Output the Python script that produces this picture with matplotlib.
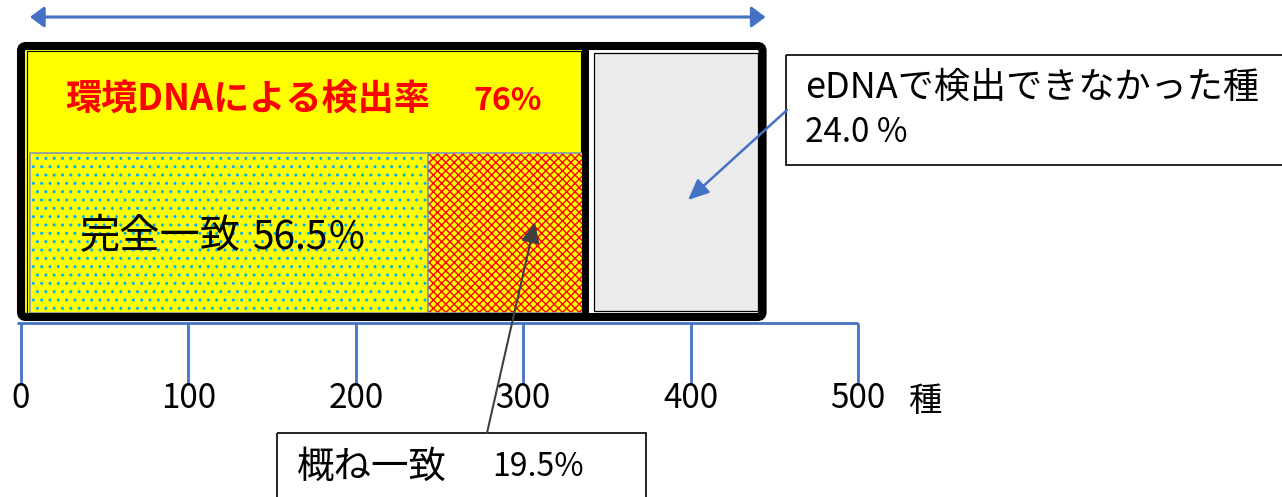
import matplotlib
matplotlib.use("Agg")
import matplotlib.pyplot as plt
import matplotlib.patches as patches
from matplotlib.transforms import Affine2D

# ==========================================
# DATA (species counts)
# ==========================================

segment_names = ["完全一致", "概ね一致", "eDNAで検出できなかった種"]
species_counts = [243, 94, 106]
percent_labels = ["56.5％", "19.5%", "24.0 %"]
detect_title = "環境DNAによる検出率"
detect_rate = "76%"
tick_values = [0, 100, 200, 300, 400, 500]
tick_labels = ["0", "100", "200", "300", "400", "500"]
unit_label = "種"

# ==========================================
# LAYOUT
# ==========================================

W, H = 1282, 497
X0_PX = 21                      # pixel of 0 species
PX_PER_SP = (858 - 21) / 500    # pixels per species

BLUE = "#4472C4"
YELLOW = "#FFFF00"
DOT_BLUE = "#00B0F0"
BORDER = "#8497B0"

plt.rcParams["font.family"] = ["Noto Sans CJK JP", "DejaVu Sans"]
plt.rcParams["hatch.linewidth"] = 1.0

fig = plt.figure(figsize=(W / 100, H / 100), dpi=100)
ax = fig.add_axes([0, 0, 1, 1])
ax.set_xlim(-X0_PX / PX_PER_SP, (W - X0_PX) / PX_PER_SP)
ax.set_ylim(H, 0)
ax.axis("off")

# pixel coords, origin top-left
pix = Affine2D().scale(1, -1).translate(0, H)


def dx(p):
    # pixel offset -> species units
    return p / PX_PER_SP


full, approx, undet = species_counts
detected = full + approx
total = detected + undet

# ==========================================
# BAR
# ==========================================

# detected part (yellow background)
ax.barh(181.5, detected, left=0, height=271, color=YELLOW, lw=0)
ax.add_patch(patches.Rectangle((dx(6), 51), detected - dx(10), 264,
                               fill=False, edgecolor="black", lw=0.8))

# not detected part (grey)
ax.barh(181.75, undet - dx(13.5), left=detected + dx(9), height=258.5,
        color="#EBEBEB", edgecolor="black", lw=0.9)

# full match (dotted)
ax.barh(233, full - dx(9), left=dx(9), height=160, color=YELLOW,
        edgecolor=DOT_BLUE, hatch="..", lw=0)
ax.barh(233, full - dx(9), left=dx(9), height=160, fill=False,
        edgecolor=BORDER, lw=1.2)

# approximate match (red check)
ax.barh(233, approx, left=full, height=160, color=YELLOW,
        edgecolor="red", hatch="xxxx", lw=0)
ax.barh(233, approx, left=full, height=160, fill=False,
        edgecolor=BORDER, lw=1.2)

# thick frame + separator
frame = patches.FancyBboxPatch((0, 46), total, 271,
                               boxstyle="round,pad=0,rounding_size=3",
                               mutation_aspect=PX_PER_SP,
                               facecolor="none", edgecolor="black", lw=5.8)
ax.add_patch(frame)
ax.vlines(detected, 46, 317, color="black", lw=5)

# top double arrow
ax.annotate("", xy=(total + dx(3), 17), xytext=(dx(9), 17),
            arrowprops=dict(arrowstyle="<|-|>,head_length=0.6,head_width=0.45",
                            color=BLUE, lw=2.2, mutation_scale=14,
                            shrinkA=0, shrinkB=0))

# ==========================================
# AXIS
# ==========================================

ax.hlines(323, -dx(4), tick_values[-1], color=BLUE, lw=2)
ax.vlines(tick_values, 323, 383, color=BLUE, lw=2)
for v, lab in zip(tick_values, tick_labels):
    ax.text(v, 398, lab, ha="center", va="center", fontsize=24)
ax.text(tick_values[-1] + dx(67), 402, unit_label, ha="center",
        va="center", fontsize=24)

# ==========================================
# TEXTS
# ==========================================

ax.text(65, 100, detect_title, transform=pix, color="red",
        fontweight="bold", fontsize=26, va="center")
ax.text(473, 101, detect_rate, transform=pix, color="red",
        fontweight="bold", fontsize=23, va="center")

ax.text(80, 237, segment_names[0], transform=pix, fontsize=29, va="center")
ax.text(252, 238, percent_labels[0], transform=pix, fontsize=28,
        va="center")

# right callout
ax.add_patch(patches.Rectangle((786, 55), 520, 110, transform=pix,
                               fill=False, edgecolor="black", lw=1.2))
ax.text(805, 88, segment_names[2], transform=pix, fontsize=26, va="center")
ax.text(805, 133, percent_labels[2], transform=pix, fontsize=24, va="center")
ax.annotate("", xy=(688, 200), xycoords=pix, xytext=(787, 110),
            textcoords=pix,
            arrowprops=dict(arrowstyle="-|>,head_length=0.9,head_width=0.4",
                            color=BLUE, lw=1.8, mutation_scale=14,
                            shrinkA=0, shrinkB=0))

# bottom callout
ax.add_patch(patches.Rectangle((277, 433), 369, 80, transform=pix,
                               fill=False, edgecolor="black", lw=1.2))
ax.text(297, 467, segment_names[1], transform=pix, fontsize=27, va="center")
ax.text(492, 467, percent_labels[1], transform=pix, fontsize=23, va="center")
ax.annotate("", xy=(535, 222), xycoords=pix, xytext=(487, 433),
            textcoords=pix,
            arrowprops=dict(arrowstyle="-|>,head_length=0.9,head_width=0.4",
                            color="#404040", lw=1.5, mutation_scale=14,
                            shrinkA=0, shrinkB=0))

fig.savefig("out.png", dpi=100)
